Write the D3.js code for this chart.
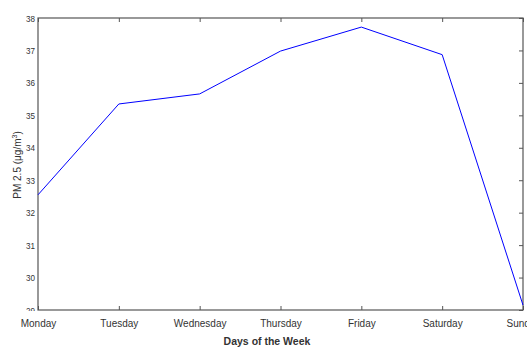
<!DOCTYPE html>
<html>
<head>
<meta charset="utf-8">
<script src="https://cdn.jsdelivr.net/npm/d3@7"></script>
<style>
  body { margin: 0; background: #fff; }
  text { font-family: "Liberation Sans", Arial, sans-serif; fill: #333; }
</style>
</head>
<body>
<div id="chart"></div>
<script>
// data
var days = ["Monday", "Tuesday", "Wednesday", "Thursday", "Friday", "Saturday", "Sunday"];
var pm25 = [32.55, 35.35, 35.66, 36.98, 37.72, 36.87, 29.15];
var yTicks = [29, 30, 31, 32, 33, 34, 35, 36, 37, 38];

var W = 527, H = 347;
var margin = {top: 18, right: 4, bottom: 37, left: 38},
    width = W - margin.left - margin.right,
    height = H - margin.top - margin.bottom;

var svg = d3.select("#chart").append("svg")
    .attr("width", W)
    .attr("height", H);

// the lowest tick label is cut at the frame in the original
svg.append("defs").append("clipPath").attr("id", "cut")
  .append("rect").attr("x", -margin.left).attr("y", -margin.top)
  .attr("width", margin.left).attr("height", margin.top + height + 1);

var g = svg.append("g")
    .attr("transform", "translate(" + margin.left + "," + margin.top + ")");

var x = d3.scalePoint().domain(days).range([0, width]);
var y = d3.scaleLinear().domain([29, 38]).range([height, 0]);

var axisColor = "#555";

// frame
g.append("rect")
  .attr("x", 0).attr("y", 0)
  .attr("width", width).attr("height", height)
  .attr("fill", "none")
  .attr("stroke", axisColor)
  .attr("stroke-width", 1.2);

// bottom axis
var xAxis = g.append("g")
  .attr("transform", "translate(0," + height + ")")
  .call(d3.axisBottom(x).tickSizeInner(-4).tickSizeOuter(0).tickPadding(10));
// top ticks
var xTop = g.append("g")
  .call(d3.axisTop(x).tickSizeInner(-4).tickSizeOuter(0).tickFormat(""));

// left axis
var yAxis = g.append("g")
  .call(d3.axisLeft(y).tickValues(yTicks).tickSizeInner(-4).tickSizeOuter(0));
// right ticks
var yRight = g.append("g")
  .attr("transform", "translate(" + width + ",0)")
  .call(d3.axisRight(y).tickValues(yTicks).tickSizeInner(-4).tickSizeOuter(0).tickFormat(""));

[xAxis, xTop, yAxis, yRight].forEach(function(a) {
  a.select(".domain").remove();
  a.selectAll("line").attr("stroke", axisColor);
  a.selectAll("text").style("font-size", "9.5px").attr("fill", "#333")
    .style("font-family", "'Liberation Sans', Arial, sans-serif");
});
xAxis.selectAll("text").style("font-size", "10px");
yAxis.attr("clip-path", "url(#cut)");
yAxis.selectAll("text").attr("transform", "scale(0.85,1)").attr("x", -3 / 0.85);

// the line
var line = d3.line()
  .x(function(d, i) { return x(days[i]); })
  .y(function(d) { return y(d); });

g.append("path")
  .datum(pm25)
  .attr("fill", "none")
  .attr("stroke", "#0000ff")
  .attr("stroke-width", 1)
  .attr("d", line);

// axis titles
svg.append("text")
  .attr("x", 267)
  .attr("y", 345)
  .attr("text-anchor", "middle")
  .style("font-size", "10.5px")
  .style("font-weight", "bold")
  .attr("fill", "#333")
  .text("Days of the Week");

var yl = svg.append("text")
  .attr("transform", "translate(21,165) rotate(-90)")
  .attr("text-anchor", "middle")
  .style("font-size", "10px")
  .attr("fill", "#333");
yl.append("tspan").text("PM 2.5 (\u03bcg/m");
yl.append("tspan").attr("dy", -4).style("font-size", "7px").text("3");
yl.append("tspan").attr("dy", 4).text(")");
</script>
</body>
</html>
